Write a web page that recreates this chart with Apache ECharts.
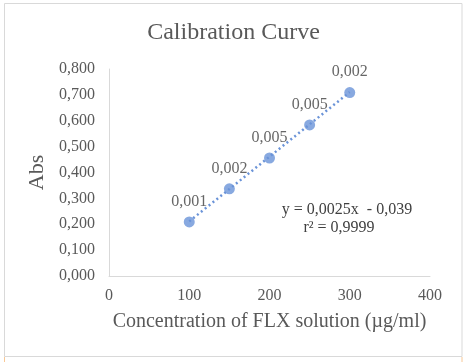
<!DOCTYPE html>
<html>
<head>
<meta charset="utf-8">
<script src="https://cdn.jsdelivr.net/npm/echarts@6/dist/echarts.min.js"></script>
<style>
html,body{margin:0;padding:0;background:#fff;}
#c{width:467px;height:362px;}
</style>
</head>
<body>
<div id="c"></div>
<script>
var concentrations = [100, 150, 200, 250, 300];
var absorbance = [0.209, 0.337, 0.456, 0.584, 0.709];
var pointLabels = ['0,001', '0,002', '0,005', '0,005', '0,002'];
var trendX = [100, 300];
var trendY = [0.211, 0.711];
var equationText = 'y = 0,0025x  - 0,039';
var r2Text = 'r² = 0,9999';

var font = '"Liberation Serif", "DejaVu Serif", serif';
var txt = '#595959';
var dark = '#404040';
var blue = '#6a93d8';

var chart = echarts.init(document.getElementById('c'));
chart.setOption({
  animation: false,
  backgroundColor: '#fff',
  title: {
    text: 'Calibration Curve',
    left: 'center',
    top: 16,
    textStyle: {fontFamily: font, fontSize: 24, fontWeight: 'normal', color: txt}
  },
  grid: {left: 109, right: 37, top: 69, bottom: 86},
  xAxis: {
    type: 'value', min: 0, max: 400, interval: 100,
    name: 'Concentration of FLX solution (µg/ml)',
    nameLocation: 'middle', nameGap: 36,
    nameTextStyle: {fontFamily: font, fontSize: 20, color: txt},
    axisLine: {show: true, lineStyle: {color: '#d9d9d9', width: 1}},
    axisTick: {show: false},
    splitLine: {show: false},
    axisLabel: {fontFamily: font, fontSize: 16, color: txt, margin: 12}
  },
  yAxis: {
    type: 'value', min: 0, max: 0.8, interval: 0.1,
    name: 'Abs',
    nameLocation: 'middle', nameGap: 58,
    nameTextStyle: {fontFamily: font, fontSize: 22, color: txt},
    axisLine: {show: true, lineStyle: {color: '#d9d9d9', width: 1}},
    axisTick: {show: false},
    splitLine: {show: false},
    axisLabel: {
      fontFamily: font, fontSize: 16, color: txt, margin: 14,
      formatter: function (v) { return v.toFixed(3).replace('.', ','); }
    }
  },
  series: [
    {
      type: 'line',
      data: trendX.map(function (x, i) { return [x, trendY[i]]; }),
      symbol: 'none',
      lineStyle: {color: blue, width: 2.5, type: [2, 3]},
      z: 1
    },
    {
      type: 'scatter',
      data: concentrations.map(function (x, i) { return [x, absorbance[i]]; }),
      symbol: 'circle',
      symbolSize: 11,
      itemStyle: {color: blue},
      label: {
        show: true, position: 'top', distance: 7,
        fontFamily: font, fontSize: 16, color: dark,
        formatter: function (p) { return pointLabels[p.dataIndex]; }
      },
      z: 2
    }
  ],
  graphic: [
    {type: 'rect', shape: {x: 4.5, y: 3.5, width: 457.5, height: 353}, style: {fill: 'none', stroke: '#d9d9d9', lineWidth: 1}, silent: true},
    {type: 'line', shape: {x1: 4.5, y1: 357, x2: 4.5, y2: 362}, style: {stroke: '#f8c896', lineWidth: 1}, silent: true},
    {type: 'line', shape: {x1: 462, y1: 357, x2: 462, y2: 362}, style: {stroke: '#f8c896', lineWidth: 1}, silent: true},
    {type: 'text', x: 347, y: 210, style: {text: equationText, font: '16px ' + font, fill: dark, align: 'center', verticalAlign: 'middle'}},
    {type: 'text', x: 339, y: 228, style: {text: r2Text, font: '16px ' + font, fill: dark, align: 'center', verticalAlign: 'middle'}}
  ]
});
</script>
</body>
</html>
